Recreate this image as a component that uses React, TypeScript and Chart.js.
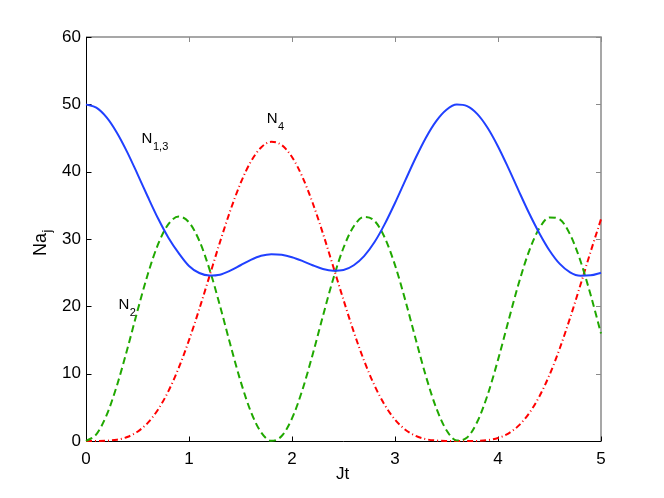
import React, { useEffect, useRef } from "react";
import { Chart, registerables } from "chart.js";

Chart.register(...registerables);

// Time axis (Jt)
const jt = [
  0.0, 0.1, 0.2, 0.3, 0.4, 0.5, 0.6, 0.7, 0.8, 0.9,
  1.0, 1.1, 1.2, 1.3, 1.4, 1.5, 1.6, 1.7, 1.8, 1.9,
  2.0, 2.1, 2.2, 2.3, 2.4, 2.5, 2.6, 2.7, 2.8, 2.9,
  3.0, 3.1, 3.2, 3.3, 3.4, 3.5, 3.6, 3.7, 3.8, 3.9,
  4.0, 4.1, 4.2, 4.3, 4.4, 4.5, 4.6, 4.7, 4.8, 4.9, 5.0,
];

// N_{1,3}
const n13 = [
  50.0, 49.5, 48.06, 45.79, 42.91, 39.64, 36.27, 33.04, 30.2, 27.91,
  26.0, 24.95, 24.58, 24.7, 25.3, 26.1, 26.9, 27.5, 27.75, 27.66,
  27.3, 26.75, 26.1, 25.55, 25.3, 25.4, 26.1, 27.45, 29.51, 32.21,
  35.35, 38.71, 42.03, 45.05, 47.51, 49.2, 49.96, 49.74, 48.55, 46.49,
  43.75, 40.56, 37.19, 33.9, 30.9, 28.3, 26.3, 25.05, 24.55, 24.6, 25.0,
];

// N_2
const n2 = [
  0.0, 0.99, 3.84, 8.22, 13.6, 19.34, 24.77, 29.23, 32.2, 33.33,
  32.47, 29.74, 25.46, 20.13, 14.39, 8.92, 4.37, 1.28, 0.02, 0.74,
  3.35, 7.54, 12.82, 18.55, 24.06, 28.7, 31.9, 33.29, 32.71, 30.22,
  26.12, 20.9, 15.18, 9.63, 4.92, 1.6, 0.08, 0.52, 2.89, 6.89,
  12.05, 17.76, 23.34, 28.13, 31.56, 33.21, 32.91, 30.67, 26.77, 21.67, 15.97,
];

// N_4
const n4 = [
  0.0, 0.0, 0.04, 0.19, 0.59, 1.38, 2.7, 4.68, 7.4, 10.85,
  14.97, 19.6, 24.54, 29.5, 34.18, 38.27, 41.48, 43.59, 44.43, 43.95,
  42.18, 39.26, 35.38, 30.84, 25.92, 20.95, 16.2, 11.92, 8.28, 5.36,
  3.18, 1.68, 0.76, 0.27, 0.07, 0.01, 0.0, 0.0, 0.02, 0.13,
  0.45, 1.11, 2.28, 4.07, 6.57, 9.82, 13.77, 18.28, 23.16, 28.15, 32.94,
];

const xTicks = [0, 1, 2, 3, 4, 5];
const yTicks = [0, 10, 20, 30, 40, 50, 60];

const seriesLabels = [
  { main: "N", sub: "1,3", x: 0.54, y: 44.3 },
  { main: "N", sub: "4", x: 1.755, y: 47.3 },
  { main: "N", sub: "2", x: 0.315, y: 19.6 },
];

const FONT = "'Liberation Sans', Arial, Helvetica, sans-serif";

export default function App() {
  const ref = useRef<HTMLCanvasElement | null>(null);

  useEffect(() => {
    const canvas = ref.current;
    if (!canvas) return;

    const decor = {
      id: "decor",
      beforeDatasetsDraw(chart: any) {
        const { ctx, chartArea: a, scales } = chart;
        const xs = scales.x;
        const ys = scales.y;
        ctx.save();
        // top & right border (gray)
        ctx.strokeStyle = "#8a8a8a";
        ctx.lineWidth = 1.5;
        ctx.beginPath();
        ctx.moveTo(a.left, a.top);
        ctx.lineTo(a.right, a.top);
        ctx.lineTo(a.right, a.bottom);
        ctx.stroke();
        // top/right inward ticks
        ctx.lineWidth = 1;
        ctx.beginPath();
        xTicks.forEach((v) => {
          const px = Math.round(xs.getPixelForValue(v)) + 0.5;
          ctx.moveTo(px, a.top);
          ctx.lineTo(px, a.top + 5);
        });
        yTicks.forEach((v) => {
          const py = Math.round(ys.getPixelForValue(v)) + 0.5;
          ctx.moveTo(a.right, py);
          ctx.lineTo(a.right - 5, py);
        });
        ctx.stroke();
        // left & bottom border (black)
        ctx.strokeStyle = "#000";
        ctx.lineWidth = 1;
        ctx.beginPath();
        const l = Math.round(a.left) + 0.5;
        const b = Math.round(a.bottom) + 0.5;
        ctx.moveTo(l, a.top);
        ctx.lineTo(l, b);
        ctx.lineTo(a.right, b);
        xTicks.forEach((v) => {
          const px = Math.round(xs.getPixelForValue(v)) + 0.5;
          ctx.moveTo(px, b);
          ctx.lineTo(px, b - 5);
        });
        yTicks.forEach((v) => {
          const py = Math.round(ys.getPixelForValue(v)) + 0.5;
          ctx.moveTo(l, py);
          ctx.lineTo(l + 5, py);
        });
        ctx.stroke();
        ctx.restore();
      },
      afterDraw(chart: any) {
        const { ctx, chartArea: a, scales } = chart;
        const xs = scales.x;
        const ys = scales.y;
        ctx.save();
        ctx.fillStyle = "#000";
        ctx.textBaseline = "alphabetic";
        ctx.textAlign = "left";
        // series annotations
        seriesLabels.forEach((lb) => {
          const px = xs.getPixelForValue(lb.x);
          const py = ys.getPixelForValue(lb.y);
          ctx.font = `15px ${FONT}`;
          ctx.fillText(lb.main, px, py);
          const w = ctx.measureText(lb.main).width;
          ctx.font = `11px ${FONT}`;
          ctx.fillText(lb.sub, px + w + 0.5, py + 7);
        });
        // x axis title
        ctx.font = `17px ${FONT}`;
        ctx.textAlign = "center";
        ctx.fillText("Jt", (a.left + a.right) / 2 - 1, 479);
        // y axis title with subscript
        ctx.translate(46, 256);
        ctx.rotate(-Math.PI / 2);
        ctx.textAlign = "left";
        ctx.font = `18px ${FONT}`;
        ctx.fillText("Na", 0, 0);
        const w = ctx.measureText("Na").width;
        ctx.font = `13px ${FONT}`;
        ctx.fillText("j", w + 0.5, 5);
        ctx.restore();
      },
    };

    const mk = (arr: number[]) => jt.map((x, i) => ({ x, y: arr[i] }));

    const chart = new Chart(canvas, {
      type: "line",
      data: {
        datasets: [
          {
            label: "N13",
            data: mk(n13),
            borderColor: "#2040ff",
            borderWidth: 2,
            pointRadius: 0,
            cubicInterpolationMode: "monotone",
            clip: false,
          },
          {
            label: "N2",
            data: mk(n2),
            borderColor: "#20a800",
            borderWidth: 2,
            borderDash: [7, 4],
            pointRadius: 0,
            cubicInterpolationMode: "monotone",
            clip: false,
          },
          {
            label: "N4",
            data: mk(n4),
            borderColor: "#ff0000",
            borderWidth: 2,
            borderDash: [6, 3, 1, 3],
            pointRadius: 0,
            cubicInterpolationMode: "monotone",
            clip: false,
          },
        ],
      },
      options: {
        animation: false,
        responsive: false,
        maintainAspectRatio: false,
        events: [],
        layout: { padding: { top: 37, right: 63, left: 0, bottom: 0 } },
        plugins: { legend: { display: false }, tooltip: { enabled: false } },
        scales: {
          x: {
            type: "linear",
            min: 0,
            max: 5,
            afterFit: (s: any) => {
              s.height = 57;
            },
            afterBuildTicks: (s: any) => {
              s.ticks = xTicks.map((v) => ({ value: v }));
            },
            ticks: {
              color: "#000",
              font: { size: 17, family: FONT },
              padding: 8,
              maxRotation: 0,
            },
            grid: { display: false, drawTicks: false },
            border: { display: false },
          },
          y: {
            type: "linear",
            min: 0,
            max: 60,
            afterFit: (s: any) => {
              s.width = 86;
            },
            afterBuildTicks: (s: any) => {
              s.ticks = yTicks.map((v) => ({ value: v }));
            },
            ticks: {
              color: "#000",
              font: { size: 17, family: FONT },
              padding: 5,
            },
            grid: { display: false, drawTicks: false },
            border: { display: false },
          },
        },
      },
      plugins: [decor],
    });

    return () => chart.destroy();
  }, []);

  return (
    <div style={{ position: "absolute", left: 0, top: 0, width: 664, height: 498, background: "#fff" }}>
      <canvas ref={ref} width={664} height={498} style={{ display: "block" }} />
    </div>
  );
}
